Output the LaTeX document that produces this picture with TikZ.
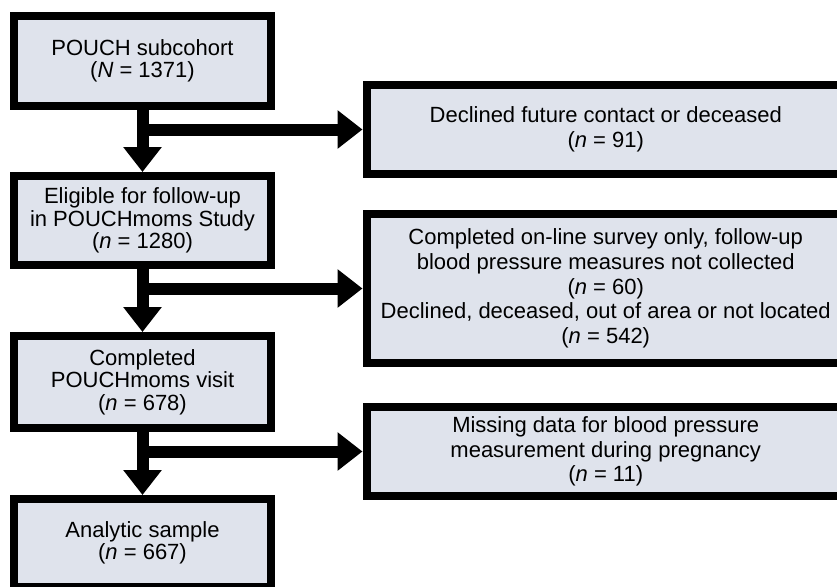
\documentclass[tikz,border=0pt]{standalone}
\usepackage{fontspec}
\setmainfont{Liberation Sans}
\usetikzlibrary{arrows.meta}
\definecolor{boxfill}{RGB}{223,227,236}
\begin{document}
\begin{tikzpicture}[x=1pt,y=-1pt,
  box/.style={draw=black, fill=boxfill, line width=8pt, align=center, inner sep=0pt},
  leftbox/.style={box, minimum width=257pt, font=\fontsize{22}{22.5}\selectfont},
  rightbox/.style={box, minimum width=478.5pt, font=\fontsize{22}{24.6}\selectfont},
  flow/.style={line width=12pt, -{Triangle[width=37pt,length=25pt]}}]
\useasboundingbox (0,0) rectangle (837,586);
\node[leftbox, minimum height=90pt] (b1) at (142.5,61) {POUCH subcohort\\(\textit{N} = 1371)};
\node[leftbox, minimum height=89pt] (b2) at (142.5,220.5) {Eligible for follow-up\\in POUCHmoms Study\\(\textit{n} = 1280)};
\node[leftbox, minimum height=92pt] (b3) at (142.5,382) {Completed\\POUCHmoms visit\\(\textit{n} = 678)};
\node[leftbox, minimum height=88pt] (b4) at (142.5,543) {Analytic sample\\(\textit{n} = 667)};
\node[rightbox, minimum height=89pt] (r1) at (605.75,129.5) {Declined future contact or deceased\\(\textit{n} = 91)};
\node[rightbox, minimum height=149pt] (r2) at (605.75,288.5) {Completed on-line survey only, follow-up\\blood pressure measures not collected\\(\textit{n} = 60)\\Declined, deceased, out of area or not located\\(\textit{n} = 542)};
\node[rightbox, minimum height=89pt] (r3) at (605.75,451.5) {Missing data for blood pressure\\measurement during pregnancy\\(\textit{n} = 11)};
\draw[flow] (b1.south) -- (b2.north);
\draw[flow] (b1.south |- r1.west) -- (r1.west);
\draw[flow] (b2.south) -- (b3.north);
\draw[flow] (b2.south |- r2.west) -- (r2.west);
\draw[flow] (b3.south) -- (b4.north);
\draw[flow] (b3.south |- r3.west) -- (r3.west);
\end{tikzpicture}
\end{document}
